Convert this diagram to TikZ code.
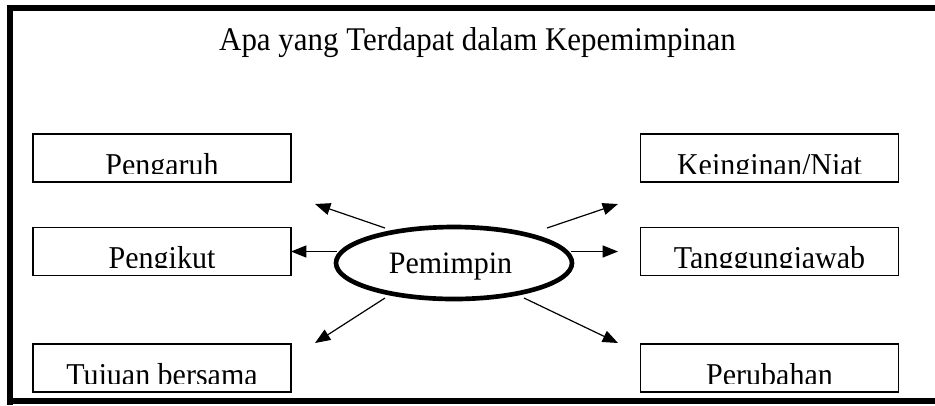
\documentclass[tikz,border=0pt]{standalone}
\usepackage{fontspec}
\setmainfont{Liberation Serif}
\usetikzlibrary{arrows.meta,shapes.geometric}
\newcommand\cliplabel[2]{%
  \begin{scope}
    \clip (#1.north west) rectangle ([yshift=6.8pt]#1.south east);
    \node[lbl, anchor=base] at ([yshift=5.6pt]#1.south) {\scalebox{1}[1.06]{#2}};
  \end{scope}}
\begin{document}
\begin{tikzpicture}[x=0.75pt,y=-0.75pt,
  lbl/.style={inner sep=0pt, font=\fontsize{22.5}{27}\selectfont},
  itembox/.style={draw, line width=0.9pt, minimum width=193.5pt, minimum height=36pt, inner sep=0pt},
  leader/.style={ellipse, draw, line width=3.5pt, minimum width=177pt, minimum height=54pt, inner sep=0pt},
  arr/.style={line width=0.9pt, -{Triangle[length=11.5pt, width=9pt]}},
  frame/.style={line width=4.5pt}]
\fill[white] (0,0) rectangle (935,405);
\useasboundingbox (0,0) rectangle (935,405);
% frame
\draw[frame] (935,8) -- (10,8) -- (10,405);
\draw[line width=4pt] (7,401) -- (935,401);
% title
\node[inner sep=0pt, anchor=base, font=\fontsize{23.2}{28}\selectfont] (title) at (477.5,50) {\scalebox{1}[1.07]{Apa yang Terdapat dalam Kepemimpinan}};
% boxes
\node[itembox] (pengaruh) at (162,158) {};
\node[itembox] (pengikut) at (162,251.5) {};
\node[itembox] (tujuan) at (162,368) {};
\node[itembox] (niat) at (769.5,158) {};
\node[itembox] (tanggung) at (769.5,251.5) {};
\node[itembox] (perubahan) at (769.5,368) {};
\cliplabel{pengaruh}{Pengaruh}
\cliplabel{pengikut}{Pengikut}
\cliplabel{tujuan}{Tujuan bersama}
\cliplabel{niat}{Keinginan/Niat}
\cliplabel{tanggung}{Tanggungjawab}
\cliplabel{perubahan}{Perubahan}
% leader ellipse
\node[leader] (pemimpin) at (454,263) {};
\node[lbl, anchor=base] (pemimpintext) at (450.5,273) {\scalebox{1}[1.04]{Pemimpin}};
% arrow ends
\coordinate (s1) at (385,228); \coordinate (t1) at (315,204);
\coordinate (s2) at (337,251.5); \coordinate (t2) at (291,251.5);
\coordinate (s3) at (385,298); \coordinate (t3) at (315,343);
\coordinate (s4) at (547,228); \coordinate (t4) at (618,204);
\coordinate (s5) at (571,251.5); \coordinate (t5) at (618,251.5);
\coordinate (s6) at (524,298); \coordinate (t6) at (618,343);
\draw[arr] (s1) -- (t1);
\draw[arr] (s2) -- (t2);
\draw[arr] (s3) -- (t3);
\draw[arr] (s4) -- (t4);
\draw[arr] (s5) -- (t5);
\draw[arr] (s6) -- (t6);
\end{tikzpicture}
\end{document}
